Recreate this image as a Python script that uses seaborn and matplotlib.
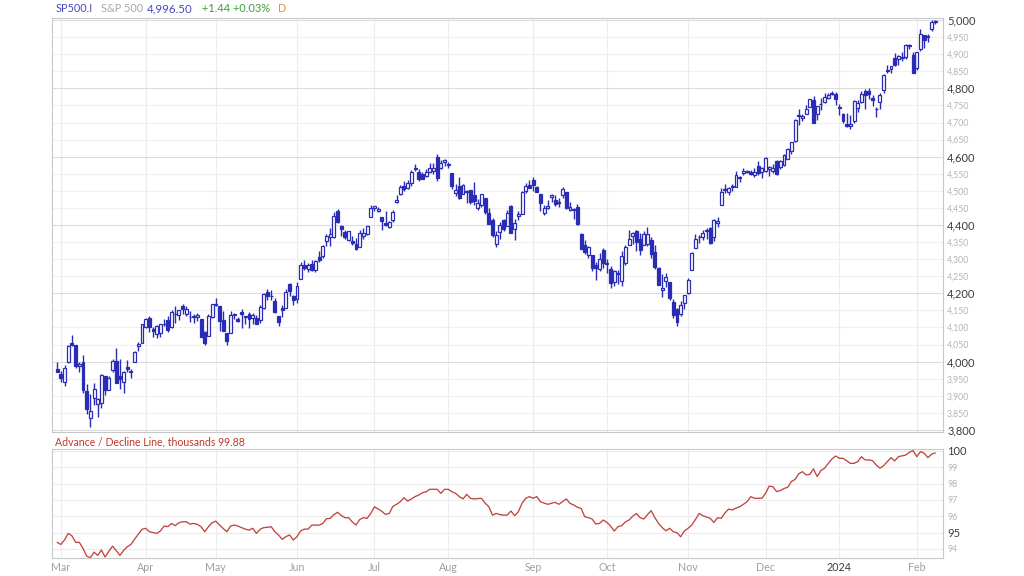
import numpy as np
import pandas as pd
import seaborn as sns
import matplotlib.pyplot as plt
from matplotlib.ticker import MultipleLocator, FixedLocator, FuncFormatter

# trading days Feb 28 2023 .. Feb 8 2024 (NYSE holidays removed)
holidays = ['2023-04-07', '2023-05-29', '2023-06-19', '2023-07-04', '2023-09-04',
            '2023-11-23', '2023-12-25', '2024-01-01', '2024-01-15']
dates = pd.bdate_range('2023-02-28', '2024-02-08')
dates = dates[~dates.isin(pd.to_datetime(holidays))]

month_labels = ['Mar', 'Apr', 'May', 'Jun', 'Jul', 'Aug', 'Sep', 'Oct', 'Nov', 'Dec', '2024', 'Feb']

# S&P 500 daily candles
opens = [3977,
    3963, 3939, 3998, 4055, 4048, 3988, 3999, 3913, 3835, 3894, 3877, 3879, 3959, 3917, 3976, 4002, 3959, 3939, 3983, 3974, 4000, 4047, 4056,
    4102, 4128, 4095, 4081, 4085, 4110, 4122, 4100, 4140, 4137, 4164, 4139, 4130, 4132, 4132, 4126, 4088, 4075, 4130,
    4167, 4164, 4122, 4083, 4085, 4137, 4124, 4144, 4132, 4139, 4127, 4128, 4123, 4158, 4204, 4191, 4177, 4133, 4156, 4156, 4227, 4191,
    4183, 4241, 4283, 4271, 4285, 4269, 4305, 4308, 4353, 4366, 4365, 4441, 4396, 4380, 4355, 4354, 4345, 4337, 4367, 4375, 4422,
    4450, 4442, 4423, 4405, 4394, 4416, 4468, 4492, 4515, 4509, 4522, 4564, 4554, 4550, 4543, 4555, 4559, 4598, 4566, 4585,
    4579, 4551, 4494, 4514, 4492, 4498, 4502, 4487, 4451, 4458, 4479, 4434, 4416, 4345, 4380, 4415, 4396, 4455, 4389, 4426, 4433, 4500, 4517,
    4531, 4510, 4490, 4435, 4451, 4481, 4473, 4463, 4488, 4498, 4445, 4445, 4453, 4374, 4342, 4311, 4313, 4283, 4270, 4328,
    4285, 4270, 4234, 4259, 4235, 4289, 4340, 4367, 4381, 4360, 4342, 4345, 4357, 4321, 4274, 4210, 4236, 4232, 4176, 4153, 4139, 4171,
    4201, 4268, 4334, 4364, 4366, 4384, 4391, 4364, 4407, 4459, 4505, 4497, 4510, 4512, 4539, 4553, 4556, 4555, 4546, 4572, 4555,
    4559, 4564, 4557, 4586, 4569, 4576, 4593, 4618, 4646, 4721, 4714, 4726, 4744, 4765, 4724, 4754, 4759, 4773, 4786, 4783,
    4745, 4725, 4697, 4691, 4704, 4742, 4760, 4792, 4791, 4772, 4739, 4760, 4796, 4853, 4857, 4889, 4887, 4889, 4893, 4926, 4899,
    4861, 4916, 4957, 4950, 4973, 4995]
highs = [3998,
    3972, 3991, 4048, 4078, 4050, 4000, 4018, 3934, 3905, 3937, 3894, 3964, 3959, 3957, 4009, 4039, 4008, 3973, 4004, 3979, 4031, 4058, 4111,
    4128, 4133, 4100, 4107, 4110, 4124, 4134, 4150, 4163, 4152, 4169, 4163, 4149, 4138, 4142, 4126, 4090, 4138, 4170,
    4187, 4164, 4148, 4083, 4147, 4142, 4130, 4154, 4133, 4144, 4141, 4136, 4165, 4202, 4213, 4209, 4186, 4133, 4166, 4213, 4231, 4195,
    4232, 4291, 4299, 4288, 4299, 4298, 4323, 4340, 4375, 4392, 4439, 4448, 4400, 4386, 4382, 4367, 4362, 4384, 4390, 4398, 4458,
    4456, 4454, 4423, 4440, 4413, 4444, 4488, 4517, 4528, 4533, 4562, 4578, 4565, 4555, 4563, 4581, 4582, 4607, 4590, 4594,
    4585, 4551, 4519, 4540, 4520, 4503, 4502, 4527, 4476, 4490, 4479, 4450, 4421, 4382, 4408, 4419, 4443, 4458, 4418, 4440, 4500, 4522, 4532,
    4541, 4514, 4490, 4458, 4474, 4491, 4487, 4479, 4512, 4498, 4466, 4450, 4461, 4376, 4357, 4339, 4313, 4292, 4317, 4333,
    4301, 4281, 4269, 4267, 4324, 4342, 4385, 4379, 4386, 4377, 4383, 4394, 4364, 4340, 4277, 4256, 4259, 4232, 4184, 4157, 4177, 4196,
    4246, 4320, 4374, 4372, 4386, 4391, 4393, 4418, 4422, 4509, 4521, 4512, 4520, 4557, 4542, 4568, 4560, 4561, 4568, 4588, 4570,
    4599, 4574, 4579, 4591, 4591, 4609, 4624, 4644, 4710, 4739, 4726, 4750, 4769, 4778, 4749, 4773, 4785, 4785, 4793, 4788,
    4754, 4729, 4727, 4721, 4765, 4765, 4791, 4799, 4802, 4782, 4744, 4786, 4842, 4868, 4866, 4904, 4898, 4907, 4929, 4931, 4907,
    4907, 4975, 4957, 4958, 5000, 5000]
lows = [3969,
    3939, 3928, 3995, 4045, 3980, 3970, 3909, 3846, 3809, 3874, 3838, 3864, 3901, 3917, 3971, 3936, 3919, 3909, 3970, 3952, 4000, 4032, 4056,
    4099, 4087, 4073, 4070, 4073, 4103, 4087, 4099, 4113, 4123, 4140, 4134, 4115, 4114, 4118, 4071, 4049, 4075, 4127,
    4164, 4090, 4089, 4048, 4085, 4124, 4117, 4099, 4109, 4099, 4110, 4110, 4114, 4154, 4180, 4180, 4143, 4104, 4130, 4156, 4192, 4166,
    4172, 4241, 4267, 4263, 4264, 4261, 4292, 4304, 4338, 4338, 4363, 4407, 4367, 4360, 4352, 4341, 4328, 4335, 4360, 4372, 4422,
    4442, 4437, 4385, 4397, 4390, 4408, 4463, 4489, 4500, 4505, 4515, 4557, 4528, 4536, 4541, 4552, 4548, 4529, 4564, 4573,
    4568, 4506, 4486, 4475, 4491, 4464, 4461, 4458, 4444, 4453, 4432, 4404, 4365, 4335, 4360, 4383, 4396, 4376, 4356, 4415, 4432, 4494, 4507,
    4501, 4496, 4442, 4430, 4448, 4468, 4457, 4454, 4479, 4447, 4442, 4417, 4401, 4329, 4316, 4303, 4266, 4239, 4264, 4275,
    4260, 4216, 4220, 4226, 4220, 4284, 4340, 4345, 4325, 4312, 4342, 4338, 4304, 4270, 4223, 4189, 4219, 4181, 4128, 4104, 4133, 4153,
    4198, 4268, 4334, 4348, 4355, 4360, 4344, 4353, 4394, 4459, 4495, 4488, 4500, 4510, 4526, 4545, 4553, 4546, 4541, 4547, 4537,
    4555, 4544, 4552, 4547, 4565, 4574, 4593, 4608, 4643, 4694, 4705, 4726, 4744, 4698, 4708, 4737, 4758, 4769, 4781, 4752,
    4723, 4700, 4688, 4682, 4700, 4730, 4756, 4740, 4769, 4747, 4715, 4741, 4786, 4844, 4844, 4866, 4869, 4881, 4887, 4916, 4845,
    4854, 4908, 4918, 4935, 4969, 4987]
closes = [3970,
    3951, 3981, 4046, 4048, 3986, 3992, 3918, 3862, 3856, 3919, 3892, 3960, 3917, 3952, 4003, 3937, 3949, 3971, 3978, 3971, 4028, 4051, 4109,
    4125, 4101, 4090, 4105, 4109, 4109, 4092, 4146, 4138, 4151, 4155, 4155, 4130, 4134, 4137, 4072, 4056, 4135, 4169,
    4168, 4120, 4091, 4061, 4136, 4138, 4119, 4138, 4131, 4124, 4136, 4110, 4159, 4198, 4192, 4193, 4146, 4115, 4151, 4205, 4206, 4180,
    4221, 4282, 4274, 4284, 4268, 4294, 4299, 4339, 4369, 4373, 4426, 4410, 4389, 4366, 4382, 4348, 4329, 4378, 4377, 4396, 4450,
    4456, 4447, 4412, 4399, 4410, 4439, 4472, 4510, 4505, 4523, 4555, 4566, 4535, 4536, 4555, 4567, 4567, 4537, 4582, 4589,
    4577, 4513, 4502, 4478, 4518, 4499, 4468, 4469, 4464, 4490, 4438, 4404, 4370, 4370, 4400, 4388, 4436, 4376, 4406, 4433, 4498, 4515, 4508,
    4516, 4497, 4465, 4451, 4457, 4487, 4462, 4467, 4505, 4450, 4454, 4444, 4402, 4330, 4320, 4337, 4274, 4275, 4300, 4288,
    4288, 4229, 4264, 4258, 4309, 4336, 4358, 4377, 4350, 4328, 4374, 4373, 4315, 4278, 4224, 4217, 4248, 4187, 4137, 4117, 4167, 4194,
    4238, 4318, 4358, 4366, 4378, 4383, 4347, 4415, 4412, 4496, 4503, 4508, 4514, 4547, 4538, 4557, 4559, 4550, 4555, 4551, 4568,
    4595, 4570, 4567, 4549, 4586, 4604, 4622, 4644, 4707, 4720, 4719, 4741, 4768, 4698, 4747, 4755, 4775, 4782, 4783, 4770,
    4743, 4705, 4689, 4697, 4764, 4757, 4783, 4780, 4784, 4766, 4739, 4781, 4840, 4850, 4865, 4869, 4894, 4891, 4928, 4925, 4846,
    4906, 4959, 4943, 4954, 4995, 4996.5]

# advance / decline line, thousands
ad_line = [94.40, 94.27, 94.55, 94.95, 94.80, 94.40, 94.40, 94.03, 93.55, 93.46,
    93.80, 93.60, 93.93, 93.50, 93.85, 94.17, 93.90, 93.60, 93.90, 94.13,
    94.27, 94.60, 94.90, 95.20, 95.26, 95.05, 95.00, 94.95, 95.10, 95.40,
    95.36, 95.56, 95.42, 95.60, 95.66, 95.66, 95.52, 95.56, 95.50, 95.36,
    95.05, 95.36, 95.60, 95.70, 95.46, 95.25, 95.05, 95.40, 95.46, 95.40,
    95.30, 95.21, 95.15, 95.26, 94.95, 95.20, 95.30, 95.32, 95.36, 95.05,
    94.85, 94.58, 94.75, 94.85, 94.54, 94.75, 95.10, 95.21, 95.21, 95.45,
    95.46, 95.45, 95.56, 95.85, 95.87, 96.10, 96.24, 96.05, 95.91, 95.91,
    95.65, 95.46, 95.80, 95.91, 95.87, 96.17, 96.58, 96.44, 96.30, 96.11,
    96.17, 96.60, 96.73, 96.89, 97.14, 96.93, 97.06, 97.20, 97.30, 97.44,
    97.50, 97.65, 97.65, 97.65, 97.40, 97.65, 97.65, 97.50, 97.40, 97.20,
    97.06, 97.34, 97.10, 97.06, 97.08, 97.10, 96.80, 96.58, 96.07, 96.17,
    96.10, 96.07, 96.07, 96.32, 96.03, 96.28, 96.79, 97.10, 97.20, 97.10,
    97.20, 96.89, 96.80, 96.73, 96.80, 96.85, 96.73, 96.90, 97.06, 96.79,
    96.69, 96.55, 96.48, 95.97, 95.91, 95.83, 95.52, 95.56, 95.77, 95.62,
    95.40, 95.09, 95.36, 95.42, 95.65, 95.77, 96.00, 96.17, 95.91, 95.83,
    96.10, 96.34, 95.91, 95.56, 95.30, 95.11, 95.26, 95.05, 94.99, 94.74,
    95.10, 95.26, 95.46, 95.80, 96.17, 96.03, 95.95, 95.87, 95.62, 95.91,
    95.87, 96.20, 96.44, 96.38, 96.50, 96.58, 96.73, 96.89, 97.20, 97.10,
    97.10, 97.10, 97.40, 97.85, 97.81, 97.51, 97.57, 97.70, 97.77, 98.12,
    98.26, 98.60, 98.73, 98.53, 98.57, 98.90, 98.43, 98.80, 98.94, 99.24,
    99.51, 99.69, 99.55, 99.55, 99.40, 99.24, 99.24, 99.35, 99.65, 99.45,
    99.45, 99.41, 99.14, 98.94, 99.10, 99.35, 99.59, 99.39, 99.65, 99.70,
    99.75, 99.92, 100.02, 99.65, 99.96, 99.86, 99.59, 99.80, 99.88]

df = pd.DataFrame({'date': dates, 'open': opens, 'high': highs, 'low': lows,
                   'close': closes, 'ad': ad_line})
df['i'] = np.arange(len(df))
starts = [i for i in range(1, len(dates)) if dates[i].month != dates[i - 1].month]

sns.set_style('white')
plt.rcParams['font.family'] = ['Lato', 'DejaVu Sans']

BLUE = '#2a2cb6'
RED = '#c0453f'
MAJ = '#3c3c3c'
MIN = '#b4b4b4'

fig = plt.figure(figsize=(10.24, 5.76), dpi=100)
ax = fig.add_axes([52 / 1024, 1 - 432 / 576, 891 / 1024, 414 / 576])
ax2 = fig.add_axes([52 / 1024, 1 - 558 / 576, 891 / 1024, 109 / 576])

# candles: hollow up, filled down
up = df['close'] >= df['open']
body = (df['close'] - df['open']).abs().clip(lower=1.5)
bottom = df[['open', 'close']].min(axis=1)
ax.vlines(df['i'], df['low'], df['high'], color=BLUE, lw=1.0, zorder=2)
ax.bar(df['i'][up], body[up], bottom=bottom[up], width=0.8,
       facecolor='white', edgecolor=BLUE, lw=0.9, zorder=3)
ax.bar(df['i'][~up], body[~up], bottom=bottom[~up], width=0.8,
       facecolor=BLUE, edgecolor=BLUE, lw=0.9, zorder=3)

ax.set_xlim(-1.4, 240.1)
ax.set_ylim(3794, 5006)
ax.yaxis.tick_right()
ax.yaxis.set_major_locator(MultipleLocator(200))
ax.yaxis.set_minor_locator(MultipleLocator(50))
ax.yaxis.set_major_formatter(FuncFormatter(lambda v, p: f'{v:,.0f}'))
ax.yaxis.set_minor_formatter(FuncFormatter(lambda v, p: '' if round(v) % 200 == 0 else f'{v:,.0f}'))
ax.tick_params(axis='y', which='major', length=0, pad=3, labelsize=8, labelcolor=MAJ)
ax.tick_params(axis='y', which='minor', length=0, pad=3, labelsize=6.3, labelcolor=MIN)
ax.set_xticks(starts)
ax.set_xticklabels([])
ax.tick_params(axis='x', length=0)
ax.grid(True, which='major', axis='y', color='#dcdcdc', lw=0.8)
ax.grid(True, which='minor', axis='y', color='#f0f0f0', lw=0.8)
ax.grid(True, which='major', axis='x', color='#ececec', lw=0.8)
ax.set_axisbelow(True)

# advance / decline line
sns.lineplot(x=df['i'], y=df['ad'], ax=ax2, color=RED, lw=0.95)
ax2.set_xlim(-1.4, 240.1)
ax2.set_ylim(93.44, 100.12)
ax2.yaxis.tick_right()
ax2.yaxis.set_major_locator(FixedLocator([95, 100]))
ax2.yaxis.set_minor_locator(FixedLocator([94, 96, 97, 98, 99]))
ax2.yaxis.set_minor_formatter(FuncFormatter(lambda v, p: f'{v:.0f}'))
ax2.tick_params(axis='y', which='major', length=0, pad=3, labelsize=8, labelcolor=MAJ)
ax2.tick_params(axis='y', which='minor', length=0, pad=3, labelsize=6.3, labelcolor=MIN)
ax2.set_xticks(starts)
ax2.set_xticklabels(month_labels)
ax2.tick_params(axis='x', length=0, pad=3, labelsize=7.7, labelcolor='#a0a0a0')
for t in ax2.get_xticklabels():
    if t.get_text() == '2024':
        t.set_color(MAJ)
ax2.set_xlabel('')
ax2.set_ylabel('')
ax2.grid(True, which='both', axis='y', color='#ececec', lw=0.8)
ax2.grid(True, which='major', axis='x', color='#ececec', lw=0.8)
ax2.set_axisbelow(True)

for a in (ax, ax2):
    for s in a.spines.values():
        s.set_color('#c8c8c8')
        s.set_linewidth(0.8)

# header
yh = 1 - 8.5 / 576
fig.text(56 / 1024, yh, 'SP500.I', color='#4646c0', fontsize=7.8, va='center')
fig.text(101 / 1024, yh, 'S&P 500', color='#a8a8a8', fontsize=7.8, va='center')
fig.text(147 / 1024, yh, '4,996.50', color='#4646c0', fontsize=8.3, va='center')
fig.text(202 / 1024, yh, '+1.44 +0.03%', color='#3a9d3a', fontsize=7.9, va='center')
fig.text(278 / 1024, yh, 'D', color='#e39235', fontsize=7.8, va='center')
fig.text(55 / 1024, 1 - 442 / 576, 'Advance / Decline Line, thousands 99.88',
         color='#c0392b', fontsize=7.6, va='center')

fig.savefig('out.png', dpi=100)
